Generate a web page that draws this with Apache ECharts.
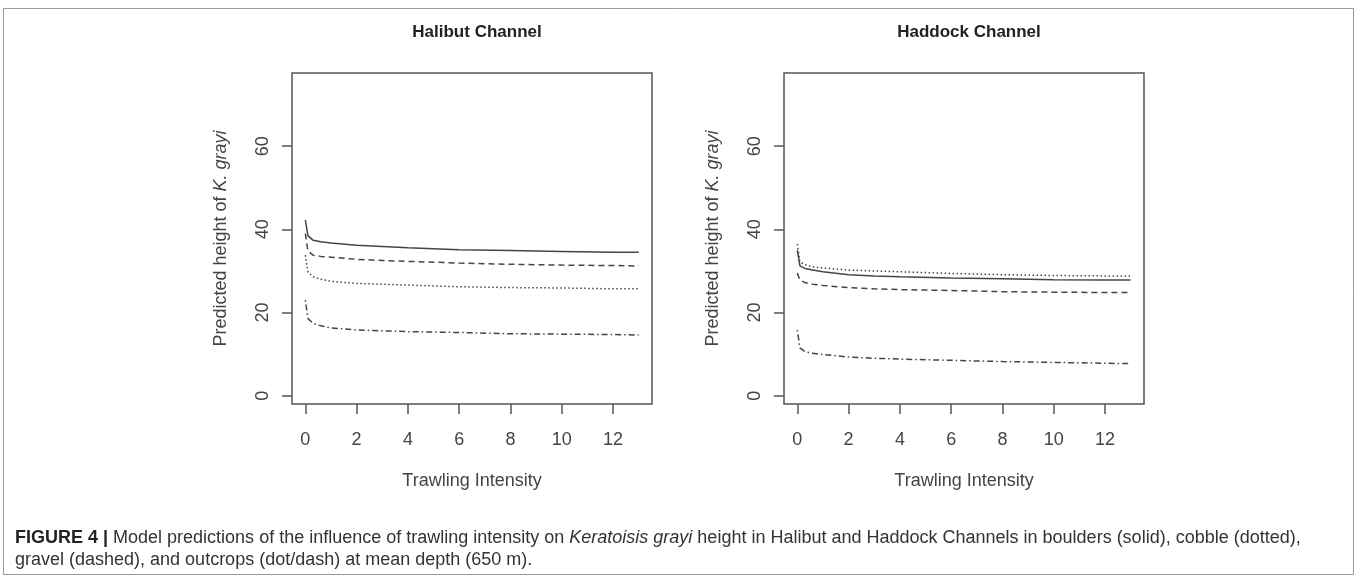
<!DOCTYPE html>
<html>
<head>
<meta charset="utf-8">
<script src="https://cdn.jsdelivr.net/npm/echarts@6/dist/echarts.min.js"></script>
<style>
  html, body { margin: 0; padding: 0; background: #fff; }
  #chart { width: 1360px; height: 583px; }
</style>
</head>
<body>
<div id="chart"></div>
<script>
// trawling intensity values where the curves were read
const xs = [0, 0.1, 0.3, 0.6, 1, 2, 3, 4, 6, 8, 10, 12, 13];
const xTicks = [0, 2, 4, 6, 8, 10, 12];
const yTicks = [0, 20, 40, 60];
const panelTitles = ['Halibut Channel', 'Haddock Channel'];

// Halibut Channel
const halibutBoulders = [42.3, 38.5, 37.4, 37.0, 36.7, 36.2, 35.9, 35.6, 35.1, 34.9, 34.7, 34.5, 34.5];
const halibutGravel   = [39.0, 34.8, 33.8, 33.5, 33.3, 32.8, 32.5, 32.3, 31.9, 31.6, 31.4, 31.3, 31.2];
const halibutCobble   = [33.8, 29.8, 28.6, 28.0, 27.5, 27.0, 26.8, 26.6, 26.2, 26.0, 25.9, 25.7, 25.7];
const halibutOutcrops = [23.0, 18.6, 17.4, 16.8, 16.3, 15.8, 15.6, 15.4, 15.2, 14.9, 14.8, 14.7, 14.6];

// Haddock Channel
const haddockBoulders = [35.0, 31.2, 30.6, 30.2, 29.8, 29.1, 28.8, 28.6, 28.3, 28.1, 27.9, 27.8, 27.8];
const haddockCobble   = [36.5, 32.2, 31.5, 31.0, 30.7, 30.2, 30.0, 29.8, 29.4, 29.1, 28.9, 28.8, 28.8];
const haddockGravel   = [29.5, 27.8, 27.2, 26.8, 26.5, 26.0, 25.7, 25.5, 25.3, 25.0, 24.9, 24.8, 24.8];
const haddockOutcrops = [15.8, 11.5, 10.6, 10.2, 9.9, 9.3, 9.0, 8.8, 8.5, 8.2, 8.0, 7.8, 7.7];

const FONT = '"Liberation Sans", Arial, sans-serif';
const INK = '#444';
const FS = 18;

function pairs(ys) {
  return xs.map((x, i) => [x, ys[i]]);
}

// R style line types
const lty = {
  solid: 'solid',
  dashed: [6, 4],
  dotted: [1.5, 2.5],
  dotdash: [1.5, 3, 6, 3]
};

function line(name, ys, type, idx) {
  return {
    name: name,
    type: 'line',
    xAxisIndex: idx,
    yAxisIndex: idx,
    data: pairs(ys),
    showSymbol: false,
    smooth: false,
    silent: true,
    animation: false,
    lineStyle: { color: INK, width: 1.5, type: type }
  };
}

function xAxisFor(idx) {
  return {
    type: 'value',
    gridIndex: idx,
    position: 'bottom',
    min: -0.52,
    max: 13.52,
    name: 'Trawling Intensity',
    nameLocation: 'middle',
    nameGap: 68,
    nameTextStyle: { fontFamily: FONT, fontSize: FS, color: INK },
    axisLine: { show: false, onZero: false },
    axisTick: { show: true, inside: false, length: 10, customValues: xTicks, lineStyle: { color: '#555', width: 1.5 } },
    axisLabel: { customValues: xTicks, margin: 27, fontFamily: FONT, fontSize: FS, color: INK },
    splitLine: { show: false }
  };
}

function yAxisFor(idx) {
  return {
    type: 'value',
    gridIndex: idx,
    position: 'left',
    min: -2,
    max: 77.6,
    name: 'Predicted height of {i|K. grayi}',
    nameLocation: 'middle',
    nameGap: 62,
    nameTextStyle: {
      fontFamily: FONT, fontSize: FS, color: INK,
      rich: { i: { fontFamily: FONT, fontSize: FS, color: INK, fontStyle: 'italic' } }
    },
    axisLine: { show: false, onZero: false },
    axisTick: { show: true, inside: false, length: 10, customValues: yTicks, lineStyle: { color: '#555', width: 1.5 } },
    axisLabel: { customValues: yTicks, rotate: 90, margin: 20, fontFamily: FONT, fontSize: FS, color: INK },
    splitLine: { show: false }
  };
}

const gridBox = { show: true, borderColor: '#555', borderWidth: 1.5, backgroundColor: 'transparent' };

const option = {
  backgroundColor: '#fff',
  animation: false,
  title: [
    { text: panelTitles[0], left: 472, top: 19, textAlign: 'center',
      textStyle: { fontFamily: FONT, fontSize: 17, fontWeight: 'bold', color: '#222' } },
    { text: panelTitles[1], left: 964, top: 19, textAlign: 'center',
      textStyle: { fontFamily: FONT, fontSize: 17, fontWeight: 'bold', color: '#222' } }
  ],
  grid: [
    Object.assign({ left: 292, top: 73, width: 360, height: 331 }, gridBox),
    Object.assign({ left: 784, top: 73, width: 360, height: 331 }, gridBox)
  ],
  xAxis: [xAxisFor(0), xAxisFor(1)],
  yAxis: [yAxisFor(0), yAxisFor(1)],
  series: [
    line('boulders', halibutBoulders, lty.solid, 0),
    line('gravel', halibutGravel, lty.dashed, 0),
    line('cobble', halibutCobble, lty.dotted, 0),
    line('outcrops', halibutOutcrops, lty.dotdash, 0),
    line('boulders', haddockBoulders, lty.solid, 1),
    line('cobble', haddockCobble, lty.dotted, 1),
    line('gravel', haddockGravel, lty.dashed, 1),
    line('outcrops', haddockOutcrops, lty.dotdash, 1)
  ],
  graphic: [
    // outer frame
    {
      type: 'rect', silent: true,
      shape: { x: 3.5, y: 8.5, width: 1350, height: 566 },
      style: { fill: null, stroke: '#999', lineWidth: 1 }
    },
    {
      type: 'text', left: 15, top: 529, silent: true,
      style: {
        text: '{b|FIGURE 4 |} Model predictions of the influence of trawling intensity on {i|Keratoisis grayi} height in Halibut and Haddock Channels in boulders (solid), cobble (dotted),',
        fontFamily: FONT, fontSize: FS, fill: '#333',
        rich: {
          b: { fontFamily: FONT, fontSize: FS, fontWeight: 'bold', fill: '#222' },
          i: { fontFamily: FONT, fontSize: FS, fontStyle: 'italic', fill: '#333' }
        }
      }
    },
    {
      type: 'text', left: 15, top: 551, silent: true,
      style: {
        text: 'gravel (dashed), and outcrops (dot/dash) at mean depth (650 m).',
        fontFamily: FONT, fontSize: FS, fill: '#333'
      }
    }
  ]
};

const myChart = echarts.init(document.getElementById('chart'), null, { renderer: 'canvas' });
myChart.setOption(option);
</script>
</body>
</html>
